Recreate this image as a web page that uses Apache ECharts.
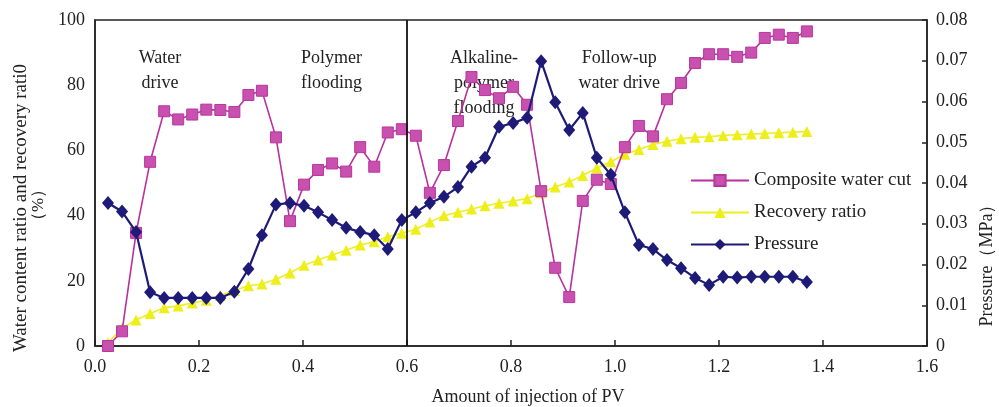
<!DOCTYPE html>
<html>
<head>
<meta charset="utf-8">
<script src="https://cdn.jsdelivr.net/npm/echarts@6/dist/echarts.min.js"></script>
<style>
html,body{margin:0;padding:0;background:#fff;}
#c{width:999px;height:407px;}
</style>
</head>
<body>
<div id="c"></div>
<script>
// ---- data ----
const pvInjected = [0.025,0.052,0.079,0.106,0.133,0.160,0.187,0.214,0.241,0.268,
  0.295,0.321,0.348,0.375,0.402,0.429,0.456,0.483,0.510,0.537,
  0.563,0.590,0.617,0.644,0.671,0.698,0.724,0.750,0.777,0.804,
  0.831,0.858,0.885,0.912,0.938,0.965,0.992,1.019,1.046,1.073,
  1.100,1.127,1.154,1.181,1.208,1.235,1.262,1.288,1.315,1.342,1.369];

const compositeWaterCut = [0,4.5,34.7,56.5,72,69.5,71,72.5,72.4,71.8,
  77,78.3,64,38.3,49.5,54,56,53.5,61,55,
  65.5,66.5,64.5,47,55.5,69,82.5,78.5,76,79.5,
  74,47.5,24,15,44.5,51,49.7,61,67.5,64.3,
  75.7,80.7,86.8,89.5,89.5,88.7,90,94.5,95.5,94.5,96.5];

const recoveryRatio = [1,5.5,8,10,11.7,12.3,13.2,14,15.5,17,
  18.5,19,20.5,22.4,24.8,26.4,27.9,29.4,31,32,
  33.5,34.6,35.8,38,40,41,42,43,43.8,44.5,
  45.2,47,48.8,50.3,52.3,54.6,56.5,58.8,60.3,61.8,
  62.8,63.6,64,64.2,64.6,64.8,65,65.2,65.4,65.6,65.8];

const pressureMPa = [0.0351,0.0330,0.0280,0.0132,0.0118,0.0118,0.0118,0.0118,0.0118,0.0133,
  0.0189,0.0272,0.0347,0.0351,0.0344,0.0328,0.0309,0.0290,0.0280,0.0272,
  0.0238,0.0309,0.0328,0.0351,0.0366,0.0390,0.0440,0.0462,0.0538,0.0547,
  0.0560,0.0699,0.0598,0.0530,0.0572,0.0462,0.0420,0.0328,0.0248,0.0238,
  0.0211,0.0191,0.0167,0.0150,0.0170,0.0168,0.0170,0.0170,0.0170,0.0170,0.0157];

const seriesNames = ['Composite water cut','Recovery ratio','Pressure'];
const stageDivider = 0.6;
const stageLabels = [
  {text:'Water\ndrive', x:0.125},
  {text:'Polymer\nflooding', x:0.455},
  {text:'Alkaline-\npolymer\nflooding', x:0.748},
  {text:'Follow-up\nwater drive', x:1.008}
];
const xTicks = {min:0, max:1.6, interval:0.2};
const leftTicks = {min:0, max:100, interval:20};
const rightTicks = {min:0, max:0.08, interval:0.01};

// ---- chart ----
const FONT = '"Liberation Serif", "Times New Roman", serif';
const chart = echarts.init(document.getElementById('c'), null, {renderer:'canvas'});
const zip = (xs, ys) => xs.map((x,i)=>[x, ys[i]]);

const gLeft = 95, gRight = 927, gTop = 20, gBottom = 346;
const xToPx = v => gLeft + (v - xTicks.min) / (xTicks.max - xTicks.min) * (gRight - gLeft);

const graphics = [
  {type:'text', x:21, y:208, rotation:Math.PI/2,
   style:{text:'Water content ratio and recovery rati0', font:'19px '+FONT, fill:'#222', textAlign:'center', textVerticalAlign:'middle'}},
  {type:'text', x:39, y:205, rotation:Math.PI/2,
   style:{text:'（%）', font:'17px '+FONT, fill:'#222', textAlign:'center', textVerticalAlign:'middle'}},
  {type:'text', x:987, y:261, rotation:Math.PI/2,
   style:{text:'Pressure（MPa）', font:'18px '+FONT, fill:'#222', textAlign:'center', textVerticalAlign:'middle'}},
  {type:'text', x:528, y:397,
   style:{text:'Amount of injection of PV', font:'18px '+FONT, fill:'#222', textAlign:'center', textVerticalAlign:'middle'}}
];
stageLabels.forEach(s => {
  graphics.push({type:'text', x:xToPx(s.x), y:46,
    style:{text:s.text, font:'18px '+FONT, fill:'#222', textAlign:'center', textVerticalAlign:'top', lineHeight:25}});
});

chart.setOption({
  backgroundColor:'#fff',
  animation:false,
  textStyle:{fontFamily:FONT},
  grid:{left:gLeft, right:999-gRight, top:gTop, bottom:407-gBottom, show:true, borderColor:'#222', borderWidth:1.5, backgroundColor:'transparent'},
  legend:{
    orient:'vertical', left:685, top:166, itemWidth:58, itemHeight:14, itemGap:13,
    data:seriesNames,
    textStyle:{fontFamily:FONT, fontSize:19, color:'#222', padding:[0,0,0,0]}
  },
  xAxis:{
    type:'value', min:xTicks.min, max:xTicks.max, interval:xTicks.interval,
    axisLine:{show:true, lineStyle:{color:'#222', width:1.5}},
    axisTick:{show:true, inside:true, length:6, lineStyle:{color:'#222', width:1.5}},
    axisLabel:{fontFamily:FONT, fontSize:18, color:'#222', margin:12, formatter:v=>v.toFixed(1)},
    splitLine:{show:false}
  },
  yAxis:[
    {type:'value', min:leftTicks.min, max:leftTicks.max, interval:leftTicks.interval, position:'left',
     axisLine:{show:true, lineStyle:{color:'#222', width:1.5}},
     axisTick:{show:false},
     axisLabel:{fontFamily:FONT, fontSize:18, color:'#222', margin:10},
     splitLine:{show:false}},
    {type:'value', min:rightTicks.min, max:rightTicks.max, interval:rightTicks.interval, position:'right',
     axisLine:{show:true, lineStyle:{color:'#222', width:1.5}},
     axisTick:{show:true, inside:true, length:5, lineStyle:{color:'#222', width:1.5}},
     axisLabel:{fontFamily:FONT, fontSize:18, color:'#222', margin:9, formatter:v=> v===0 ? '0' : v.toFixed(2)},
     splitLine:{show:false}}
  ],
  graphic:graphics,
  series:[
    {name:seriesNames[0], type:'line', yAxisIndex:0, data:zip(pvInjected, compositeWaterCut),
     symbol:'rect', symbolSize:11, z:3,
     lineStyle:{color:'#B8319C', width:1.6},
     itemStyle:{color:'#C850AE', borderColor:'#B8359E', borderWidth:1},
     markLine:{silent:true, symbol:['none','none'], label:{show:false},
       lineStyle:{color:'#111', width:1.8, type:'solid'},
       data:[{xAxis:stageDivider}]}},
    {name:seriesNames[1], type:'line', yAxisIndex:0, data:zip(pvInjected, recoveryRatio),
     symbol:'triangle', symbolSize:11, z:2,
     lineStyle:{color:'#EEEE22', width:1.6},
     itemStyle:{color:'#EEEE1A'}},
    {name:seriesNames[2], type:'line', yAxisIndex:1, data:zip(pvInjected, pressureMPa),
     symbol:'diamond', symbolSize:[12,14], z:4,
     lineStyle:{color:'#1E1B78', width:2.2},
     itemStyle:{color:'#1E1B78'}}
  ]
});
</script>
</body>
</html>
